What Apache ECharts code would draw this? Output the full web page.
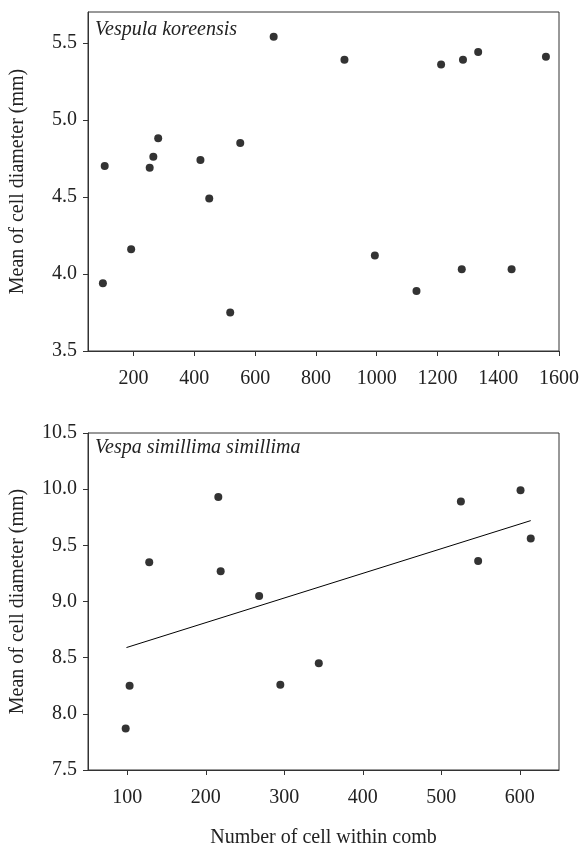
<!DOCTYPE html>
<html>
<head>
<meta charset="utf-8">
<script src="https://cdn.jsdelivr.net/npm/echarts@6/dist/echarts.min.js"></script>
<style>html,body{margin:0;padding:0;background:#fff;}#c{width:584px;height:849px;}</style>
</head>
<body>
<div id="c"></div>
<script>
// Top panel: Vespula koreensis
const koreensisX = [105, 661, 894, 1212, 1284, 1334, 1557, 281, 265, 253, 420, 551, 99, 192, 449, 518, 994, 1131, 1280, 1444];
const koreensisY = [4.70, 5.54, 5.39, 5.36, 5.39, 5.44, 5.41, 4.88, 4.76, 4.69, 4.74, 4.85, 3.94, 4.16, 4.49, 3.75, 4.12, 3.89, 4.03, 4.03];
// Bottom panel: Vespa simillima simillima
const simillimaX = [216, 525, 601, 614, 547, 128, 219, 268, 103, 98, 295, 344];
const simillimaY = [9.93, 9.89, 9.99, 9.56, 9.36, 9.35, 9.27, 9.05, 8.25, 7.87, 8.26, 8.45];
const fitLineX = [99, 614];
const fitLineY = [8.59, 9.72];
// Tick labels
const topXTicks = [200, 400, 600, 800, 1000, 1200, 1400, 1600];
const topYTicks = [3.5, 4.0, 4.5, 5.0, 5.5];
const botXTicks = [100, 200, 300, 400, 500, 600];
const botYTicks = [7.5, 8.0, 8.5, 9.0, 9.5, 10.0, 10.5];

const FONT = '"Liberation Serif", "DejaVu Serif", serif';
const AX = '#333';
const TXT = '#222';
const FS = 20;
const zip = (a, b) => a.map((v, i) => [v, b[i]]);

function xAxis(gi, min, max, ticks, name) {
  return {
    type: 'value', gridIndex: gi, min: min, max: max,
    axisLine: {show: true, lineStyle: {color: AX, width: 1}},
    axisTick: {show: true, inside: false, length: 5, lineStyle: {color: AX}, customValues: ticks},
    axisLabel: {color: TXT, fontFamily: FONT, fontSize: FS, margin: 18, customValues: ticks,
      formatter: v => String(v)},
    splitLine: {show: false},
    name: name || '', nameLocation: 'middle', nameGap: 58,
    nameTextStyle: {color: TXT, fontFamily: FONT, fontSize: FS}
  };
}
function yAxis(gi, min, max, ticks) {
  return {
    type: 'value', gridIndex: gi, min: min, max: max,
    axisLine: {show: true, lineStyle: {color: AX, width: 1}},
    axisTick: {show: true, inside: false, length: 5, lineStyle: {color: AX}, customValues: ticks},
    axisLabel: {color: TXT, fontFamily: FONT, fontSize: FS, margin: 11, customValues: ticks,
      formatter: v => Number(v).toFixed(1)},
    splitLine: {show: false},
    name: 'Mean of cell diameter (mm)', nameLocation: 'middle', nameGap: 60, nameRotate: 90,
    nameTextStyle: {color: TXT, fontFamily: FONT, fontSize: FS}
  };
}

const titleStyle = {fontFamily: FONT, fontStyle: 'italic', fontWeight: 'normal', fontSize: FS, color: TXT};
const chart = echarts.init(document.getElementById('c'), null, {renderer: 'canvas'});
chart.setOption({
  animation: false,
  backgroundColor: '#fff',
  title: [
    {text: 'Vespula koreensis', left: 95, top: 20, padding: 0, textStyle: titleStyle},
    {text: 'Vespa simillima simillima', left: 95, top: 438, padding: 0, textStyle: titleStyle}
  ],
  grid: [
    {left: 88, top: 12, width: 471, height: 339, show: true, borderColor: AX, borderWidth: 1, backgroundColor: 'transparent'},
    {left: 88, top: 433, width: 471, height: 339, show: true, borderColor: AX, borderWidth: 1, backgroundColor: 'transparent'}
  ],
  xAxis: [xAxis(0, 50, 1600, topXTicks), xAxis(1, 50, 650, botXTicks, 'Number of cell within comb')],
  yAxis: [yAxis(0, 3.5, 5.7, topYTicks), yAxis(1, 7.5, 10.5, botYTicks)],
  series: [
    {type: 'scatter', xAxisIndex: 0, yAxisIndex: 0, data: zip(koreensisX, koreensisY),
     symbol: 'circle', symbolSize: 8, itemStyle: {color: '#000'}},
    {type: 'scatter', xAxisIndex: 1, yAxisIndex: 1, data: zip(simillimaX, simillimaY),
     symbol: 'circle', symbolSize: 8, itemStyle: {color: '#000'}},
    {type: 'line', xAxisIndex: 1, yAxisIndex: 1, data: zip(fitLineX, fitLineY),
     symbol: 'none', lineStyle: {color: '#000', width: 1}}
  ]
});
</script>
</body>
</html>
